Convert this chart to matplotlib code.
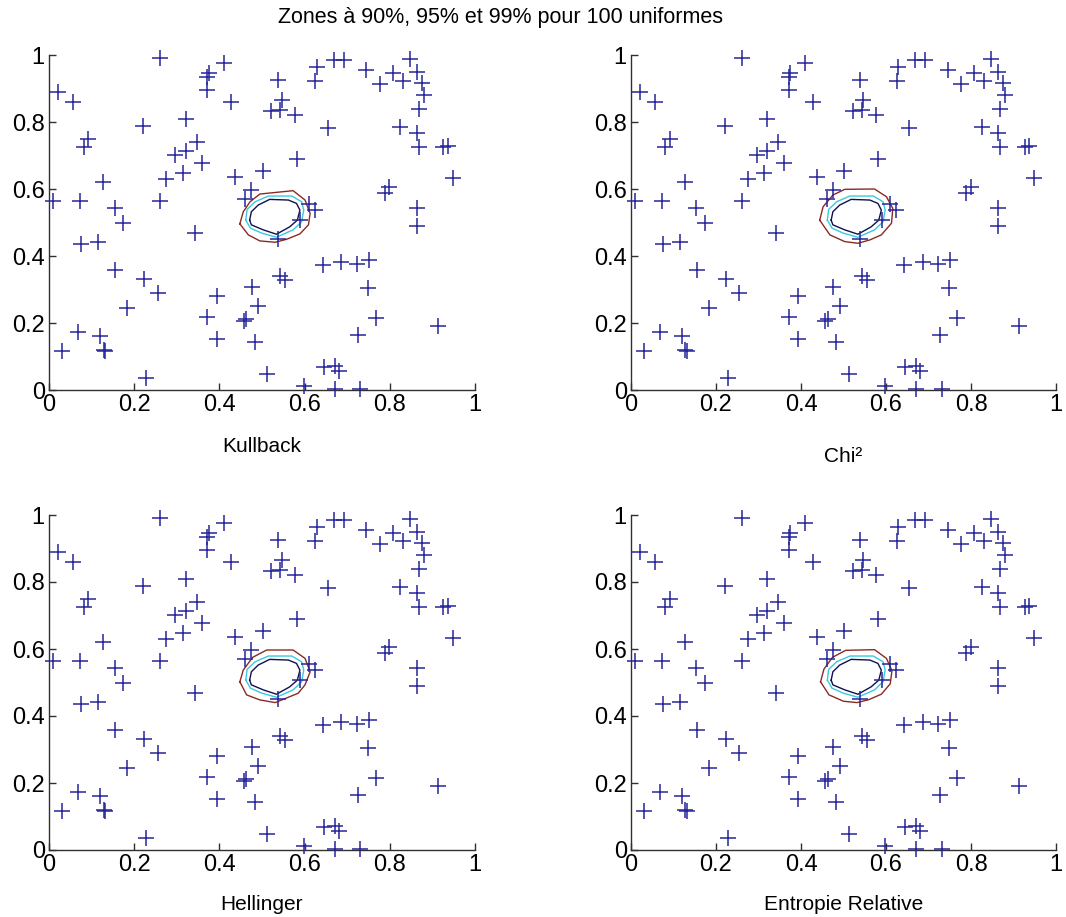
import matplotlib
matplotlib.use("Agg")
import matplotlib.pyplot as plt

# ---- data: 100 uniform points (same sample in every panel) ----
pts_x = [0.022, 0.057, 0.261, 0.375, 0.371, 0.371, 0.410, 0.428, 0.220, 0.321,
         0.092, 0.081, 0.296, 0.321, 0.347, 0.359, 0.314, 0.275, 0.261, 0.126,
         0.010, 0.073, 0.154, 0.173, 0.075, 0.116, 0.342, 0.155, 0.224, 0.255,
         0.183, 0.069, 0.120, 0.128, 0.132, 0.030, 0.228, 0.394, 0.371, 0.457,
         0.463, 0.394, 0.476, 0.491, 0.483, 0.512, 0.543, 0.555, 0.598, 0.643,
         0.686, 0.723, 0.751, 0.749, 0.768, 0.726, 0.645, 0.671, 0.680, 0.671,
         0.731, 0.914, 0.863, 0.863, 0.788, 0.799, 0.949, 0.926, 0.937, 0.868,
         0.864, 0.825, 0.868, 0.880, 0.875, 0.863, 0.847, 0.831, 0.808, 0.777,
         0.745, 0.668, 0.692, 0.629, 0.625, 0.655, 0.538, 0.547, 0.543, 0.522,
         0.577, 0.582, 0.502, 0.437, 0.475, 0.461, 0.610, 0.624, 0.590, 0.538]
pts_y = [0.889, 0.861, 0.990, 0.945, 0.933, 0.896, 0.975, 0.859, 0.789, 0.808,
         0.749, 0.726, 0.701, 0.713, 0.739, 0.677, 0.647, 0.629, 0.564, 0.622,
         0.565, 0.563, 0.544, 0.498, 0.436, 0.443, 0.468, 0.358, 0.332, 0.289,
         0.246, 0.174, 0.162, 0.119, 0.117, 0.116, 0.037, 0.281, 0.219, 0.206,
         0.211, 0.152, 0.308, 0.252, 0.144, 0.047, 0.341, 0.328, 0.012, 0.373,
         0.383, 0.376, 0.388, 0.305, 0.215, 0.164, 0.068, 0.072, 0.057, 0.003,
         0.002, 0.191, 0.542, 0.491, 0.589, 0.607, 0.632, 0.726, 0.728, 0.726,
         0.766, 0.786, 0.839, 0.881, 0.917, 0.950, 0.987, 0.923, 0.945, 0.912,
         0.955, 0.985, 0.985, 0.963, 0.922, 0.781, 0.925, 0.866, 0.836, 0.833,
         0.821, 0.690, 0.655, 0.637, 0.597, 0.570, 0.555, 0.537, 0.507, 0.450]

panel_labels = ["Kullback", "Chi²", "Hellinger", "Entropie Relative"]
title_text = "Zones à 90%, 95% et 99% pour 100 uniformes"
tick_vals = [0, 0.2, 0.4, 0.6, 0.8, 1]
tick_labels = ["0", "0.2", "0.4", "0.6", "0.8", "1"]

# ---- contour lines (closed polygons), 90% / 95% / 99% ----
z90_x = [0.471, 0.475, 0.491, 0.518, 0.562, 0.581, 0.589, 0.583, 0.565, 0.534, 0.503, 0.475, 0.471]
z90_y = [0.507, 0.532, 0.552, 0.569, 0.567, 0.557, 0.537, 0.507, 0.487, 0.465, 0.478, 0.493, 0.507]
z95_x = [0.462, 0.465, 0.484, 0.515, 0.570, 0.593, 0.598, 0.593, 0.573, 0.534, 0.500, 0.473, 0.462]
z95_y = [0.507, 0.539, 0.562, 0.579, 0.579, 0.562, 0.537, 0.502, 0.478, 0.456, 0.468, 0.483, 0.507]

z99_kull_x = [0.448, 0.456, 0.472, 0.495, 0.573, 0.601, 0.613, 0.609, 0.589, 0.558, 0.531, 0.495, 0.468, 0.448]
z99_kull_y = [0.496, 0.532, 0.562, 0.585, 0.595, 0.567, 0.527, 0.493, 0.466, 0.450, 0.441, 0.445, 0.463, 0.496]
z99_chi_x = [0.444, 0.452, 0.475, 0.503, 0.573, 0.601, 0.616, 0.613, 0.589, 0.562, 0.534, 0.503, 0.468, 0.444]
z99_chi_y = [0.507, 0.547, 0.582, 0.599, 0.600, 0.577, 0.542, 0.498, 0.463, 0.448, 0.438, 0.443, 0.463, 0.507]
z99_hel_x = [0.448, 0.456, 0.478, 0.511, 0.573, 0.601, 0.613, 0.601, 0.585, 0.531, 0.495, 0.464, 0.448]
z99_hel_y = [0.502, 0.537, 0.575, 0.597, 0.597, 0.572, 0.532, 0.493, 0.468, 0.440, 0.448, 0.463, 0.502]
z99_ent_x = [0.446, 0.454, 0.474, 0.505, 0.573, 0.601, 0.614, 0.610, 0.589, 0.560, 0.532, 0.500, 0.466, 0.446]
z99_ent_y = [0.502, 0.540, 0.575, 0.596, 0.598, 0.572, 0.535, 0.496, 0.465, 0.449, 0.440, 0.444, 0.463, 0.502]

outer_x = [z99_kull_x, z99_chi_x, z99_hel_x, z99_ent_x]
outer_y = [z99_kull_y, z99_chi_y, z99_hel_y, z99_ent_y]

plt.rcParams['font.family'] = ['Liberation Sans', 'DejaVu Sans']

W, H = 1066, 917
fig = plt.figure(figsize=(W / 100, H / 100), dpi=100)
fig.patch.set_facecolor('white')

# axes boxes in pixels: (left, top of y=1, width, height)
boxes = [(49, 55, 426, 335), (631, 55, 425, 335),
         (49, 515, 426, 335), (631, 515, 425, 335)]
# x-label vertical centres in pixels
label_y = [447, 457, 904, 904]

pt_color = '#26269a'
for i, (l, t, w, h) in enumerate(boxes):
    ax = fig.add_axes([l / W, 1 - (t + h) / H, w / W, h / H])
    ax.plot(pts_x, pts_y, linestyle='none', marker='+', markersize=11,
            markeredgewidth=1.1, color=pt_color, zorder=3, clip_on=False)
    ax.plot(outer_x[i], outer_y[i], color='#8a2a22', lw=1.0, zorder=2)
    ax.plot(z95_x, z95_y, color='#3cc8e0', lw=1.0, zorder=2)
    ax.plot(z90_x, z90_y, color='#101050', lw=1.0, zorder=2)
    ax.set_xlim(0, 1)
    ax.set_ylim(0, 1)
    ax.set_xticks(tick_vals)
    ax.set_xticklabels(tick_labels)
    ax.set_yticks(tick_vals)
    ax.set_yticklabels(tick_labels)
    for s in ['top', 'right']:
        ax.spines[s].set_visible(False)
    for s in ['left', 'bottom']:
        ax.spines[s].set_color('#303030')
        ax.spines[s].set_linewidth(1.0)
    ax.tick_params(direction='in', length=5, width=1, colors='#303030',
                   labelcolor='black', labelsize=17, pad=3)
    fig.text((l + w / 2) / W, 1 - label_y[i] / H, panel_labels[i],
             ha='center', va='center', fontsize=15)

fig.text(500 / W, 1 - 18 / H, title_text, ha='center', va='center', fontsize=15.5)

fig.savefig('out.png', dpi=100, facecolor='white')
